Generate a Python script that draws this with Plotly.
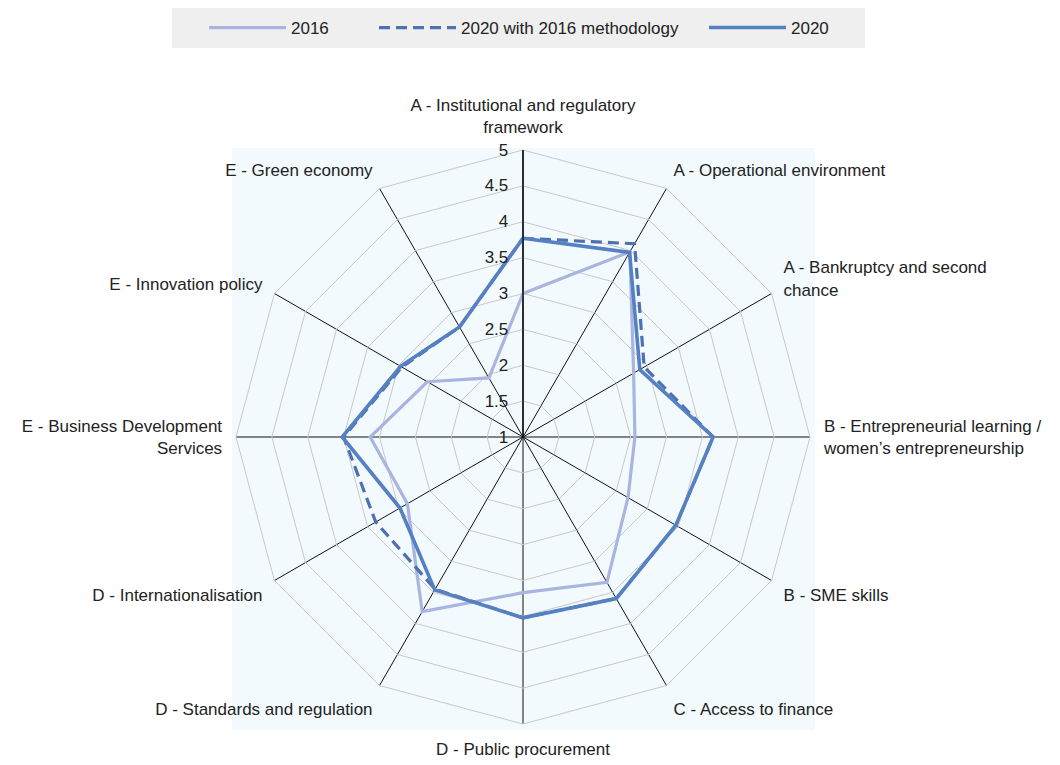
import plotly.graph_objects as go

categories = [
    "A - Institutional and regulatory<br>framework",
    "A - Operational environment",
    "A - Bankruptcy and second<br>chance",
    "B - Entrepreneurial learning /<br>women’s entrepreneurship",
    "B - SME skills",
    "C - Access to finance",
    "D - Public procurement",
    "D - Standards and regulation",
    "D - Internationalisation",
    "E - Business Development<br>Services",
    "E - Innovation policy",
    "E - Green economy",
]

series_names = ["2016", "2020 with 2016 methodology", "2020"]
values_2016 = [3.0, 3.98, 2.78, 2.56, 2.69, 3.34, 3.17, 3.81, 2.86, 3.13, 2.54, 1.95]
values_2020_old_method = [3.77, 4.11, 2.95, 3.65, 3.46, 3.60, 3.52, 3.45, 3.37, 3.50, 2.95, 2.77]
values_2020 = [3.77, 3.97, 2.88, 3.65, 3.46, 3.60, 3.52, 3.46, 2.98, 3.52, 2.97, 2.77]

radial_ticks = [1, 1.5, 2, 2.5, 3, 3.5, 4, 4.5, 5]
radial_ticklabels = ["1", "1.5", "2", "2.5", "3", "3.5", "4", "4.5", "5"]

FONT = "Liberation Sans Narrow, Arial Narrow, Liberation Sans, Arial, sans-serif"
TXT = "#222222"

# page body has an 8px margin: work in figure coordinates = screen - 8
OFF = 8
W, H = 1060 - OFF, 765 - OFF
cx, cy, R = 523 - OFF, 437 - OFF, 287


def closed(vals):
    return list(vals) + [vals[0]]


def px_x(x):
    return (x - OFF) / W


def px_y(y):
    return 1 - (y - OFF) / H


theta = closed(categories)

fig = go.Figure()
fig.add_trace(go.Scatterpolar(
    r=closed(values_2016), theta=theta, name=series_names[0], mode="lines",
    line=dict(color="#A9B5E0", width=3.2), legend="legend", showlegend=True,
))
fig.add_trace(go.Scatterpolar(
    r=closed(values_2020_old_method), theta=theta, name=series_names[1], mode="lines",
    line=dict(color="#4D70B3", width=3.2, dash="11px,6px"), legend="legend2", showlegend=True,
))
fig.add_trace(go.Scatterpolar(
    r=closed(values_2020), theta=theta, name=series_names[2], mode="lines",
    line=dict(color="#5580C2", width=3.6), legend="legend3", showlegend=True,
))

leg_common = dict(
    orientation="h", xanchor="left", y=px_y(28), yanchor="middle",
    bgcolor="rgba(0,0,0,0)", font=dict(family=FONT, size=17, color=TXT),
    itemwidth=77, visible=True,
)

fig.update_layout(
    width=W, height=H,
    margin=dict(l=0, r=0, t=0, b=0),
    paper_bgcolor="white",
    showlegend=True,
    font=dict(family=FONT, size=17, color=TXT),
    polar=dict(
        domain=dict(x=[(cx - R) / W, (cx + R) / W], y=[(H - cy - R) / H, (H - cy + R) / H]),
        bgcolor="rgba(0,0,0,0)",
        gridshape="linear",
        angularaxis=dict(
            direction="clockwise", rotation=90,
            showline=True, linecolor="#C8C8C8", linewidth=1,
            showgrid=True, gridcolor="#111111", gridwidth=1,
            ticks="outside", ticklen=10, tickcolor="rgba(0,0,0,0)",
            tickfont=dict(family=FONT, size=17, color=TXT),
        ),
        radialaxis=dict(
            range=[1, 5], angle=90, side="counterclockwise",
            tickvals=radial_ticks, ticktext=radial_ticklabels,
            showline=True, linecolor="#111111", linewidth=1.5,
            showgrid=True, gridcolor="#C8C8C8", gridwidth=1,
            ticks="outside", ticklen=8, tickcolor="rgba(0,0,0,0)", tickangle=90,
            tickfont=dict(family=FONT, size=17, color=TXT),
        ),
    ),
    legend=dict(leg_common, x=px_x(210 - 6)),
    legend2=dict(leg_common, x=px_x(380 - 6)),
    legend3=dict(leg_common, x=px_x(710 - 6)),
    shapes=[
        dict(type="rect", xref="paper", yref="paper", layer="below",
             x0=px_x(232), x1=px_x(815), y0=px_y(730), y1=px_y(148),
             fillcolor="#F3FAFD", line=dict(width=0)),
        dict(type="rect", xref="paper", yref="paper", layer="below",
             x0=px_x(172), x1=px_x(865), y0=px_y(48), y1=1,
             fillcolor="#EFEFEF", line=dict(width=0)),
    ],
)

fig.write_html("out.html")
